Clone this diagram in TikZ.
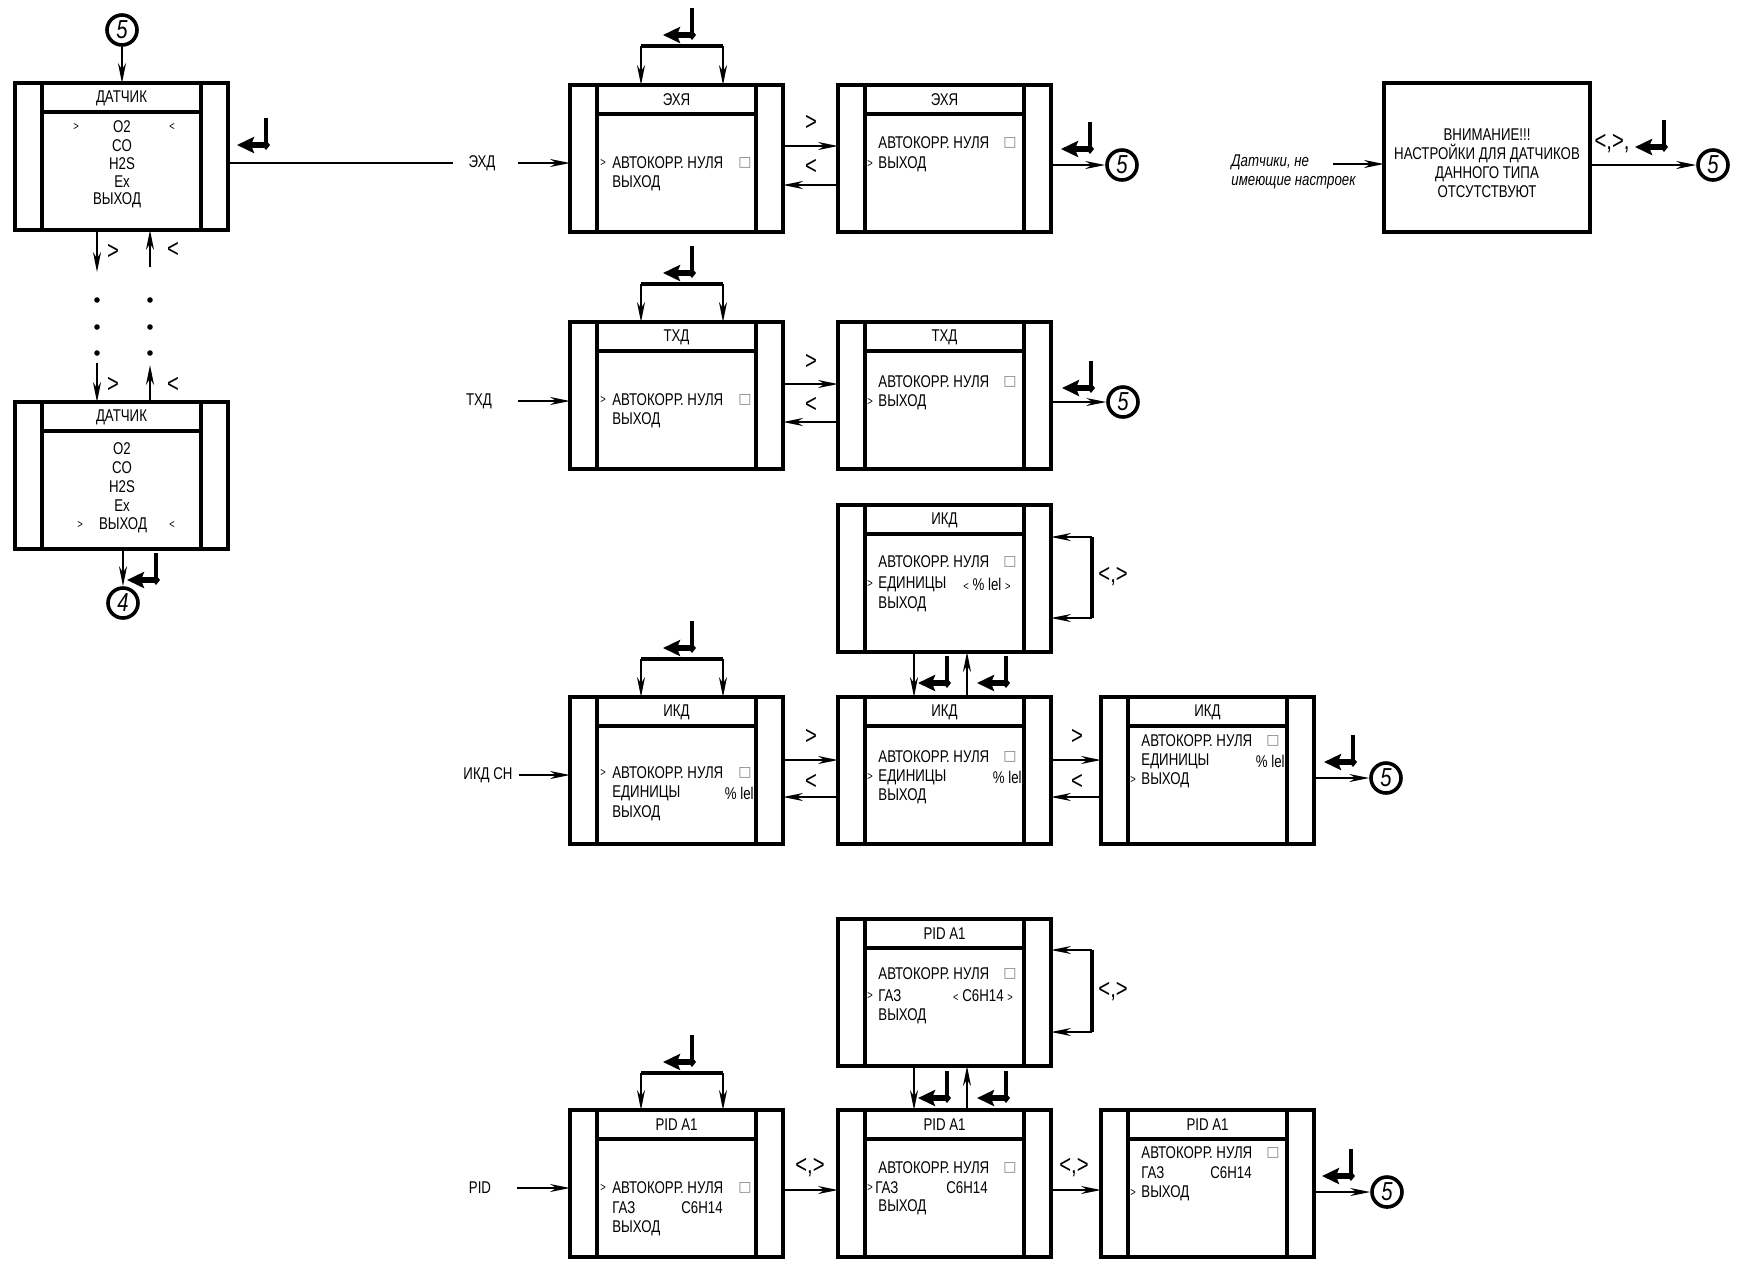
\documentclass[tikz,border=0pt]{standalone}
\usepackage{fontspec}
\setmainfont{Liberation Sans}[FakeStretch=0.78]
\newfontfamily\symf{DejaVu Sans}
\usetikzlibrary{arrows.meta,calc}
\newcommand\boxfont{\fontsize{8.5}{9.5}\selectfont}
\tikzset{
  x=0.5pt,y=-0.5pt,
  scr/.style={draw,line width=2pt,minimum width=106.5pt,minimum height=73.5pt,anchor=north west,inner sep=0pt,outer sep=0pt},
  wbox/.style={draw,line width=2pt,minimum width=103pt,minimum height=74.5pt,anchor=north west,inner sep=0pt,outer sep=0pt},
  inl/.style={line width=2pt},
  sepl/.style={line width=1.6pt},
  ttl/.style={font=\boxfont,inner sep=0pt},
  tx/.style={anchor=west,font=\boxfont,inner sep=0pt},
  mk/.style={font=\fontsize{6}{6}\selectfont,inner sep=0pt},
  sq/.style={font=\symf\fontsize{7}{7}\selectfont,text=gray,inner sep=0pt},
  arr/.style={line width=0.8pt,-{Stealth[length=10pt,width=4pt]}},
  lbl/.style={font=\fontsize{13}{13}\selectfont,inner sep=0pt},
  circ/.style={circle,draw,line width=1.8pt,minimum size=15pt,inner sep=0pt,font=\fontsize{13}{13}\selectfont\itshape},
}
\newcommand\screenbox[4]{%
  \node[scr] (#1) at (#2,#3) {};
  \draw[inl] ($(#1.north west)+(27,0)$) -- ($(#1.south west)+(27,0)$);
  \draw[inl] ($(#1.north east)+(-27,0)$) -- ($(#1.south east)+(-27,0)$);
  \draw[sepl] ($(#1.north west)+(27,29)$) -- ($(#1.north east)+(-27,29)$);
  \node[ttl] (#1t) at ($(#1.north)+(0,15)$) {#4};}
\newcommand\btx[5]{\node[tx] (#1) at ($(#2.north west)+(#3,#4)$) {#5};}
\newcommand\bctx[5]{\node[ttl] (#1) at ($(#2.north west)+(#3,#4)$) {#5};}
\newcommand\brt[5]{\node[tx,anchor=east] (#1) at ($(#2.north west)+(#3,#4)$) {#5};}
\newcommand\bmk[5]{\node[mk] (#1) at ($(#2.north west)+(#3,#4)$) {#5};}
\newcommand\bsq[4]{\node[sq] (#1) at ($(#2.north west)+(#3,#4)$) {□};}
\newcommand\entsym[2]{%
  \draw[line width=2.2pt] (#1,#2) -- (#1,#2+26);
  \fill (#1,#2+22) -- (#1+4,#2+27) -- (#1,#2+32) -- (#1-4,#2+27) -- cycle;
  \draw[line width=2.6pt,-{Stealth[length=8.5pt,width=8pt,inset=1.5pt]}] (#1,#2+27) -- (#1-29,#2+27);}
\newcommand\bracketrow[3]{%
  \coordinate (#1l) at (641,#3); \coordinate (#1r) at (723,#3);
  \draw[line width=2pt] (#1l) -- (#1r);
  \draw[arr] (#1l) -- (#1l |- #2.north);
  \draw[arr] (#1r) -- (#1r |- #2.north);
  \entsym{692}{#3-38}}
\begin{document}
\begin{tikzpicture}
\useasboundingbox (0,0) rectangle (1742,1271);

% ---------------- left column ----------------
\node[circ] (c5t) at (122,30) {5};
\screenbox{L1}{15}{83}{ДАТЧИК}
\draw[arr] (c5t.south) -- (c5t |- L1.north);
\bctx{l1a}{L1}{107}{44}{O2}
\bctx{l1b}{L1}{107}{63}{CO}
\bctx{l1c}{L1}{107}{81}{H2S}
\bctx{l1d}{L1}{107}{99}{Ex}
\bctx{l1e}{L1}{102}{117}{ВЫХОД}
\bmk{l1m}{L1}{61}{44}{>}
\bmk{l1n}{L1}{157}{44}{<}
\entsym{266}{118}
\coordinate (lend) at (453,163);
\draw[line width=0.8pt] (lend -| L1.east) -- (lend);

\coordinate (ld1) at (97,272);
\coordinate (lu1) at (150,267);
\draw[arr] (ld1 |- L1.south) -- (ld1);
\draw[arr] (lu1) -- (lu1 |- L1.south);
\node[lbl] (g1) at (113,252) {>};
\node[lbl] (g2) at (173,250) {<};
\foreach \yy in {300,327,353} {
  \fill (97,\yy) circle (1.4pt);
  \fill (150,\yy) circle (1.4pt);
}
\screenbox{L2}{15}{402}{ДАТЧИК}
\coordinate (ld2) at (97,363);
\coordinate (lu2) at (150,365);
\draw[arr] (ld2) -- (ld2 |- L2.north);
\draw[arr] (lu2 |- L2.north) -- (lu2);
\node[lbl] (g3) at (113,385) {>};
\node[lbl] (g4) at (173,385) {<};
\bctx{l2a}{L2}{107}{47}{O2}
\bctx{l2b}{L2}{107}{66}{CO}
\bctx{l2c}{L2}{107}{85}{H2S}
\bctx{l2d}{L2}{107}{104}{Ex}
\bctx{l2e}{L2}{108}{123}{ВЫХОД}
\bmk{l2m}{L2}{65}{123}{>}
\bmk{l2n}{L2}{157}{123}{<}
\node[circ] (c4) at (123,603) {4};
\draw[arr] (c4 |- L2.south) -- (c4.north);
\entsym{156}{553}

% ---------------- ЭХД row ----------------
\screenbox{E1}{570}{85}{ЭХЯ}
\screenbox{E2}{838}{85}{ЭХЯ}
\node[ttl] (lE) at (482,163) {ЭХД};
\draw[arr] ($(lE.east)+(22,0)$) -- (lE -| E1.west);
\bracketrow{bE}{E1}{46}
\btx{e1a}{E1}{42}{78}{АВТОКОРР. НУЛЯ}
\btx{e1b}{E1}{42}{98}{ВЫХОД}
\bmk{e1m}{E1}{33}{78}{>}
\bsq{e1s}{E1}{175}{78}
\btx{e2a}{E2}{40}{58}{АВТОКОРР. НУЛЯ}
\btx{e2b}{E2}{40}{79}{ВЫХОД}
\bmk{e2m}{E2}{32}{79}{>}
\bsq{e2s}{E2}{172}{58}
\draw[arr] ($(E1.north east)+(0,61)$) -- ($(E2.north west)+(0,61)$);
\draw[arr] ($(E2.north west)+(0,100)$) -- ($(E1.north east)+(0,100)$);
\node[lbl] (gE1) at (811,123) {>};
\node[lbl] (gE2) at (811,167) {<};
\node[circ] (cE) at (1122,165) {5};
\draw[arr] (cE -| E2.east) -- (cE.west);
\entsym{1090}{122}

% ---------------- warning ----------------
\node[wbox] (W) at (1384,83) {};
\node[font=\boxfont,align=center,inner sep=0pt] (Wt) at (1487,163.5)
  {ВНИМАНИЕ!!!\\НАСТРОЙКИ ДЛЯ ДАТЧИКОВ\\ДАННОГО ТИПА\\ОТСУТСТВУЮТ};
\node[font=\boxfont\itshape,align=left,anchor=west,inner sep=0pt] (lW) at (1231,171.5)
  {Датчики, не\\имеющие настроек};
\coordinate (wS) at (1333,164);
\draw[arr] (wS) -- (wS -| W.west);
\node[circ] (cW) at (1713,165) {5};
\draw[arr] (cW -| W.east) -- (cW.west);
\node[lbl] (gW) at (1612,144) {<,>,};
\entsym{1664}{120}

% ---------------- ТХД row ----------------
\screenbox{T1}{570}{322}{ТХД}
\screenbox{T2}{838}{322}{ТХД}
\node[ttl] (lT) at (479,401) {ТХД};
\draw[arr] ($(lT.east)+(26,0)$) -- (lT -| T1.west);
\bracketrow{bT}{T1}{284}
\btx{t1a}{T1}{42}{78}{АВТОКОРР. НУЛЯ}
\btx{t1b}{T1}{42}{98}{ВЫХОД}
\bmk{t1m}{T1}{33}{78}{>}
\bsq{t1s}{T1}{175}{78}
\btx{t2a}{T2}{40}{60}{АВТОКОРР. НУЛЯ}
\btx{t2b}{T2}{40}{80}{ВЫХОД}
\bmk{t2m}{T2}{32}{80}{>}
\bsq{t2s}{T2}{172}{60}
\draw[arr] ($(T1.north east)+(0,62)$) -- ($(T2.north west)+(0,62)$);
\draw[arr] ($(T2.north west)+(0,100)$) -- ($(T1.north east)+(0,100)$);
\node[lbl] (gT1) at (811,362) {>};
\node[lbl] (gT2) at (811,405) {<};
\node[circ] (cT) at (1123,402) {5};
\draw[arr] (cT -| T2.east) -- (cT.west);
\entsym{1091}{361}

% ---------------- ИКД upper ----------------
\screenbox{I0}{838}{505}{ИКД}
\btx{i0a}{I0}{40}{57}{АВТОКОРР. НУЛЯ}
\btx{i0b}{I0}{40}{79}{ЕДИНИЦЫ}
\bctx{i0c}{I0}{149}{79}{{\fontsize{6}{6}\selectfont<} \% lel {\fontsize{6}{6}\selectfont>}}
\btx{i0d}{I0}{40}{99}{ВЫХОД}
\bmk{i0m}{I0}{32}{79}{>}
\bsq{i0s}{I0}{172}{57}
\coordinate (i0u) at (1092,537);
\coordinate (i0v) at (1092,618);
\draw[line width=1.6pt] (i0u) -- (i0v);
\draw[arr] (i0u) -- (i0u -| I0.east);
\draw[arr] (i0v) -- (i0v -| I0.east);
\node[lbl,anchor=west] (gI0) at (1098,577) {<,>};

% ---------------- ИКД row ----------------
\screenbox{K1}{570}{697}{ИКД}
\screenbox{K2}{838}{697}{ИКД}
\screenbox{K3}{1101}{697}{ИКД}
\coordinate (kd) at (914,0);
\coordinate (ku) at (967,0);
\draw[arr] (kd |- I0.south) -- (kd |- K2.north);
\draw[arr] (ku |- K2.north) -- (ku |- I0.south);
\entsym{947}{656}
\entsym{1006}{656}
\node[ttl] (lK) at (488,775) {ИКД СН};
\draw[arr] ($(lK.east)+(6,0)$) -- (lK -| K1.west);
\bracketrow{bK}{K1}{659}
\btx{k1a}{K1}{42}{76}{АВТОКОРР. НУЛЯ}
\btx{k1b}{K1}{42}{96}{ЕДИНИЦЫ}
\brt{k1c}{K1}{184}{96}{\% lel}
\btx{k1d}{K1}{42}{116}{ВЫХОД}
\bmk{k1m}{K1}{33}{76}{>}
\bsq{k1s}{K1}{175}{76}
\btx{k2a}{K2}{40}{60}{АВТОКОРР. НУЛЯ}
\btx{k2b}{K2}{40}{80}{ЕДИНИЦЫ}
\brt{k2c}{K2}{184}{80}{\% lel}
\btx{k2d}{K2}{40}{99}{ВЫХОД}
\bmk{k2m}{K2}{32}{80}{>}
\bsq{k2s}{K2}{172}{60}
\btx{k3a}{K3}{40}{44}{АВТОКОРР. НУЛЯ}
\btx{k3b}{K3}{40}{64}{ЕДИНИЦЫ}
\brt{k3c}{K3}{184}{64}{\% lel}
\btx{k3d}{K3}{40}{83}{ВЫХОД}
\bmk{k3m}{K3}{32}{83}{>}
\bsq{k3s}{K3}{172}{44}
\draw[arr] ($(K1.north east)+(0,63)$) -- ($(K2.north west)+(0,63)$);
\draw[arr] ($(K2.north west)+(0,100)$) -- ($(K1.north east)+(0,100)$);
\draw[arr] ($(K2.north east)+(0,63)$) -- ($(K3.north west)+(0,63)$);
\draw[arr] ($(K3.north west)+(0,100)$) -- ($(K2.north east)+(0,100)$);
\node[lbl] (gK1) at (811,737) {>};
\node[lbl] (gK2) at (811,782) {<};
\node[lbl] (gK3) at (1077,737) {>};
\node[lbl] (gK4) at (1077,782) {<};
\node[circ] (cK) at (1386,778) {5};
\draw[arr] (cK -| K3.east) -- (cK.west);
\entsym{1353}{735}

% ---------------- PID upper ----------------
\screenbox{P0}{838}{919}{PID A1}
\btx{p0a}{P0}{40}{55}{АВТОКОРР. НУЛЯ}
\btx{p0b}{P0}{40}{77}{ГАЗ}
\bctx{p0c}{P0}{145}{77}{{\fontsize{6}{6}\selectfont<} C6H14 {\fontsize{6}{6}\selectfont>}}
\btx{p0d}{P0}{40}{97}{ВЫХОД}
\bmk{p0m}{P0}{32}{77}{>}
\bsq{p0s}{P0}{172}{55}
\coordinate (p0u) at (1092,950);
\coordinate (p0v) at (1092,1032);
\draw[line width=1.6pt] (p0u) -- (p0v);
\draw[arr] (p0u) -- (p0u -| P0.east);
\draw[arr] (p0v) -- (p0v -| P0.east);
\node[lbl,anchor=west] (gP0) at (1098,992) {<,>};

% ---------------- PID row ----------------
\screenbox{P1}{570}{1110}{PID A1}
\screenbox{P2}{838}{1110}{PID A1}
\screenbox{P3}{1101}{1110}{PID A1}
\draw[arr] (kd |- P0.south) -- (kd |- P2.north);
\draw[arr] (ku |- P2.north) -- (ku |- P0.south);
\entsym{947}{1071}
\entsym{1006}{1071}
\node[ttl] (lP) at (480,1188) {PID};
\draw[arr] ($(lP.east)+(26,0)$) -- (lP -| P1.west);
\bracketrow{bP}{P1}{1073}
\btx{p1a}{P1}{42}{78}{АВТОКОРР. НУЛЯ}
\btx{p1b}{P1}{42}{98}{ГАЗ}
\btx{p1c}{P1}{111}{98}{C6H14}
\btx{p1d}{P1}{42}{118}{ВЫХОД}
\bmk{p1m}{P1}{33}{78}{>}
\bsq{p1s}{P1}{175}{78}
\btx{p2a}{P2}{40}{58}{АВТОКОРР. НУЛЯ}
\btx{p2b}{P2}{37}{78}{ГАЗ}
\btx{p2c}{P2}{108}{78}{C6H14}
\btx{p2d}{P2}{40}{97}{ВЫХОД}
\bmk{p2m}{P2}{32}{78}{>}
\bsq{p2s}{P2}{172}{58}
\btx{p3a}{P3}{40}{43}{АВТОКОРР. НУЛЯ}
\btx{p3b}{P3}{40}{63}{ГАЗ}
\btx{p3c}{P3}{109}{63}{C6H14}
\btx{p3d}{P3}{40}{83}{ВЫХОД}
\bmk{p3m}{P3}{32}{83}{>}
\bsq{p3s}{P3}{172}{43}
\draw[arr] ($(P1.north east)+(0,80)$) -- ($(P2.north west)+(0,80)$);
\draw[arr] ($(P2.north east)+(0,80)$) -- ($(P3.north west)+(0,80)$);
\node[lbl] (gP1) at (810,1168) {<,>};
\node[lbl] (gP2) at (1074,1168) {<,>};
\node[circ] (cP) at (1387,1192) {5};
\draw[arr] (cP -| P3.east) -- (cP.west);
\entsym{1351}{1149}
\end{tikzpicture}
\end{document}
